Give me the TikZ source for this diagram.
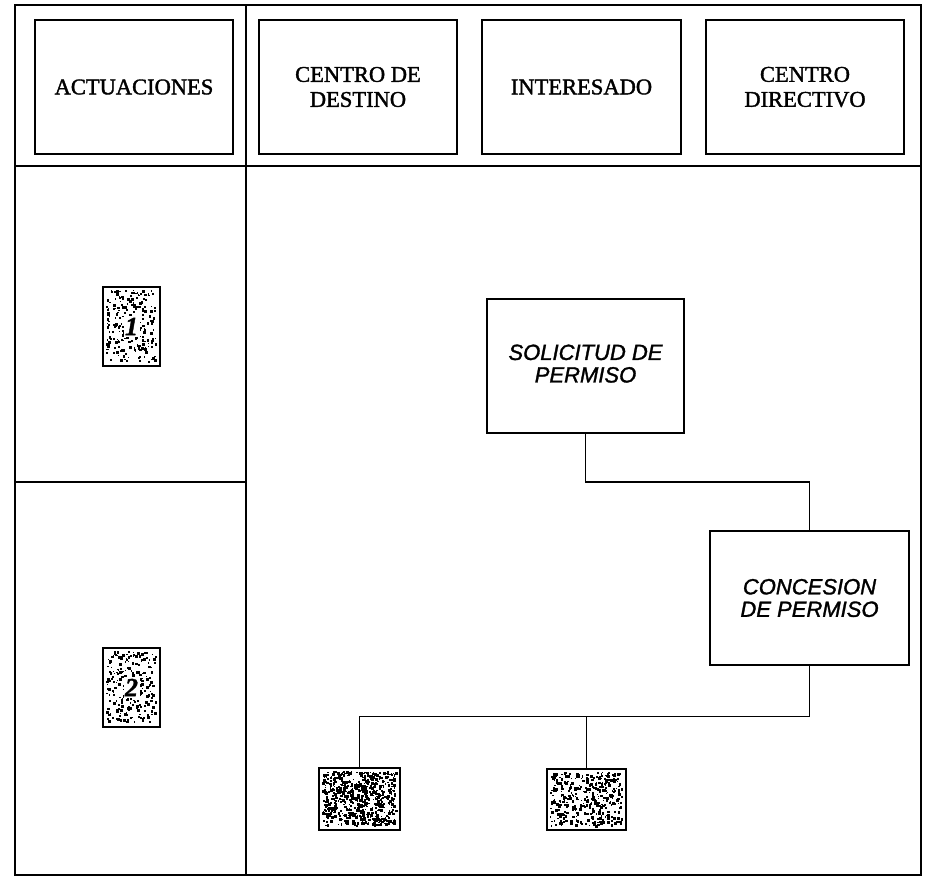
\documentclass[tikz,border=0pt]{standalone}
\usepackage{fontspec}
\setmainfont{Liberation Serif}
\newfontfamily\hdrfont{Liberation Serif}[RawFeature={embolden=1.6}]
\newfontfamily\sansit{Liberation Sans}[RawFeature={embolden=1.4}]
\usetikzlibrary{calc}
\newcommand\mySpeckle[6]{%
  \pgfmathsetseed{#6}%
  \foreach \i in {1,...,#5}{%
    \pgfmathsetmacro\px{#1+3+rnd*(#3-8)}%
    \pgfmathsetmacro\py{#2+3+rnd*(#4-8)}%
    \pgfmathsetmacro\ps{1+2*rnd}%
    \fill (\px,\py) rectangle ++(\ps,\ps);
  }}
\begin{document}
\begin{tikzpicture}[x=1pt,y=-1pt,
  frame/.style={line width=1.5pt},
  hdr/.style={draw, line width=1.5pt, minimum width=198pt, minimum height=134pt,
    inner sep=0pt, align=center, font=\hdrfont\fontsize{22.5}{25}\selectfont},
  stepbox/.style={draw, line width=1.5pt, minimum width=198pt, minimum height=134pt,
    inner sep=0pt, align=center, font=\sansit\itshape\fontsize{22}{22.5}\selectfont},
  numbox/.style={draw, line width=1.6pt, minimum width=57pt, minimum height=79pt, inner sep=0pt},
  numtext/.style={fill=white, inner sep=1.5pt, font=\hdrfont\fontsize{26}{28}\selectfont\bfseries\itshape},
  smallbox/.style={draw, line width=2pt, minimum width=80pt, minimum height=62pt, inner sep=0pt},
  conn/.style={line width=1.4pt}]
\useasboundingbox (0,0) rectangle (928,879);
% table frame
\draw[frame] (15,5) rectangle (921,875);
\draw[frame] (246,5) -- (246,875);
\draw[frame] (15,166) -- (921,166);
\draw[frame] (15,482) -- (246,482);
% speckle textures
\mySpeckle{103}{287}{57}{79}{240}{11}
\mySpeckle{103}{648}{57}{79}{240}{23}
\mySpeckle{319}{768}{81}{62}{650}{37}
\mySpeckle{547}{769}{79}{61}{380}{41}
% headers
\node[hdr] (h1) at (134,87) {ACTUACIONES};
\node[hdr] (h2) at (358,87) {CENTRO DE\\DESTINO};
\node[hdr, minimum width=199pt] (h3) at (581.5,87) {INTERESADO};
\node[hdr] (h4) at (805,87) {CENTRO\\DIRECTIVO};
% numbered steps
\node[numbox] (n1) at (131.5,326.5) {};
\node[numtext] (t1) at (n1.center) {1};
\node[numbox] (n2) at (131.5,687.5) {};
\node[numtext] (t2) at (n2.center) {2};
% process boxes
\node[stepbox, minimum width=197pt, text depth=5pt] (sol) at (585.5,366) {SOLICITUD DE\\PERMISO};
\node[stepbox, minimum width=199pt] (con) at (809.5,598) {CONCESION\\DE PERMISO};
\node[smallbox, minimum width=81pt] (b1) at (359.5,799) {};
\node[smallbox, minimum width=79pt, minimum height=61pt] (b2) at (586.5,799.5) {};
% connectors
\coordinate (j1) at ($(sol.south)!.5!(con.north)$);
\coordinate (j2) at ($(con.south)!.5!(b1.north)$);
\draw[conn] (sol.south) |- (j1) -| (con.north);
\draw[conn] (con.south) |- (j2) -| (b1.north);
\draw[conn] (b2.north) -- (b2.north |- j2);
\end{tikzpicture}
\end{document}
